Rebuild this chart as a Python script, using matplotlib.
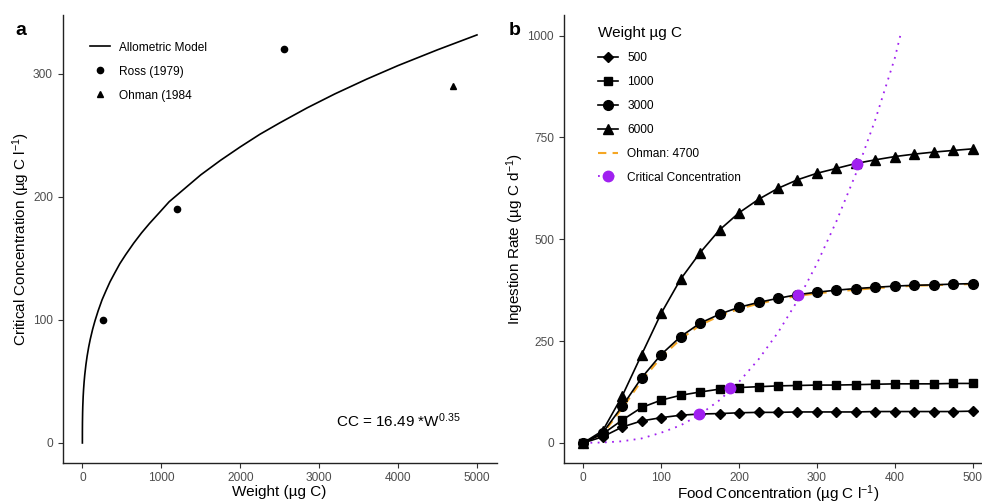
import matplotlib
matplotlib.use("Agg")
import matplotlib.pyplot as plt
from matplotlib.lines import Line2D

plt.rcParams["font.family"] = ["Liberation Sans", "DejaVu Sans"]
plt.rcParams["mathtext.fontset"] = "custom"
plt.rcParams["mathtext.rm"] = "Liberation Sans"
plt.rcParams["mathtext.it"] = "Liberation Sans:italic"

model_w = [0, 0.2, 1, 3, 5, 10, 15, 22, 30, 45, 60, 80, 100, 130, 160, 200,
           250, 300, 350, 410, 475, 550, 650, 750, 850, 975, 1100, 1300, 1500,
           1750, 2000, 2250, 2500, 2850, 3200, 3600, 4000, 4500, 5000]
model_cc = [0, 9.6, 16.8, 24.7, 29.6, 37.7, 43.4, 49.6, 55.3, 63.7, 70.5, 78.0,
            84.3, 92.4, 99.3, 107.4, 116.4, 123.8, 130.9, 138.1, 145.7, 153.1,
            162.3, 170.7, 178.3, 187.1, 196.0, 206.9, 217.8, 229.6, 240.5,
            250.8, 260.0, 272.3, 283.6, 295.5, 306.6, 319.4, 331.5]
ross_w = [265, 1200, 2560]
ross_cc = [100, 190, 320]
ohman_w = [4700]
ohman_cc = [290]

# panel b: ingestion rate vs food concentration
food = [0, 25, 50, 75, 100, 125, 150, 175, 200, 225, 250, 275, 300, 325,
        350, 375, 400, 425, 450, 475, 500]
ing_500 = [0, 15, 39, 54, 62, 68, 71, 72, 74, 75, 75, 76, 76, 76, 76, 77,
           77, 77, 77, 77, 78]
ing_1000 = [0, 22, 56, 87, 105, 117, 125, 132, 136, 138, 140, 141, 142, 142,
            143, 144, 145, 145, 145, 146, 146]
ing_3000 = [0, 25, 90, 160, 217, 261, 294, 316, 333, 345, 355, 364, 370, 375,
            379, 382, 385, 387, 388, 390, 391]
ing_6000 = [0, 30, 115, 217, 318, 402, 467, 523, 565, 598, 625, 646, 662, 674,
            686, 695, 703, 709, 714, 718, 722]
ohman_4700 = [0, 22, 85, 153, 210, 255, 289, 312, 329, 342, 352, 361, 367, 372,
              376, 380, 383, 386, 387, 389, 390]
crit_food = [0, 25, 50, 75, 100, 125, 150, 175, 200, 225, 250, 275, 300, 325,
             350, 375, 400, 407]
crit_ing = [0, 1, 4, 11, 25, 43, 70, 105, 150, 205, 271, 349, 440, 544,
            661, 794, 945, 1000]
crit_pts_food = [148, 188, 276, 352]
crit_pts_ing = [70, 134, 364, 685]

tick_col = "#4d4d4d"
purple = "#a020f0"
orange = "#f5a623"

fig = plt.figure(figsize=(9.82, 5.04), dpi=100)
ax1 = fig.add_axes([0.0638, 0.0808, 0.442, 0.889])
ax2 = fig.add_axes([0.5741, 0.0808, 0.4363, 0.889])

for ax in (ax1, ax2):
    for s in ("top", "right"):
        ax.spines[s].set_visible(False)
    for s in ("left", "bottom"):
        ax.spines[s].set_linewidth(1.0)
        ax.spines[s].set_color("#222222")
    ax.tick_params(colors="#333333", labelcolor=tick_col, labelsize=8.6,
                   length=3.5, width=0.8)
    ax.tick_params(axis="x", pad=2.5)

# ---- panel a
ax1.plot(model_w, model_cc, color="black", lw=1.2)
ax1.plot(ross_w, ross_cc, "o", color="black", ms=4.5, ls="none")
ax1.plot(ohman_w, ohman_cc, "^", color="black", ms=4.5, ls="none")
ax1.set_xlim(-250, 5250)
ax1.set_ylim(-16.5, 347.5)
ax1.set_xticks([0, 1000, 2000, 3000, 4000, 5000])
ax1.set_yticks([0, 100, 200, 300])
ax1.set_xlabel("Weight (µg C)", fontsize=11, labelpad=1)
ax1.set_ylabel("Critical Concentration (µg C l$^{-1}$)", fontsize=11, labelpad=1)
ax1.text(4000, 18, "CC = 16.49 *W$^{0.35}$", fontsize=11, ha="center", va="center")
handles_a = [
    Line2D([], [], color="black", lw=1.2),
    Line2D([], [], marker="o", color="black", ls="none", ms=4.5),
    Line2D([], [], marker="^", color="black", ls="none", ms=4.5),
]
ax1.legend(handles_a, ["Allometric Model", "Ross (1979)", "Ohman (1984"],
           loc="upper left", bbox_to_anchor=(0.038, 0.965), frameon=False,
           fontsize=8.6, handlelength=1.7, handletextpad=0.75, labelspacing=1.0)
fig.text(0.016, 0.94, "a", fontsize=14, fontweight="bold", va="center")

# ---- panel b
ax2.plot(crit_food, crit_ing, color=purple, lw=1.3, ls=(0, (1, 3)), zorder=1)
ax2.plot(food, ohman_4700, color=orange, lw=1.5, ls=(0, (4, 3)), zorder=2)
ax2.plot(food, ing_500, color="black", lw=1.2, marker="D", ms=5.5, zorder=3)
ax2.plot(food, ing_1000, color="black", lw=1.2, marker="s", ms=6, zorder=3)
ax2.plot(food, ing_3000, color="black", lw=1.2, marker="o", ms=7, zorder=3)
ax2.plot(food, ing_6000, color="black", lw=1.2, marker="^", ms=7, zorder=3)
ax2.plot(crit_pts_food, crit_pts_ing, "o", color=purple, ms=7.5, zorder=4)
ax2.set_xlim(-25, 525)
ax2.set_ylim(-50, 1050)
ax2.set_xticks([0, 100, 200, 300, 400, 500])
ax2.set_yticks([0, 250, 500, 750, 1000])
ax2.set_xlabel("Food Concentration (µg C l$^{-1}$)", fontsize=11, labelpad=-0.5)
ax2.set_ylabel("Ingestion Rate (µg C d$^{-1}$)", fontsize=11, labelpad=1)
handles_b = [
    Line2D([], [], color="black", lw=1.2, marker="D", ms=5.5),
    Line2D([], [], color="black", lw=1.2, marker="s", ms=6),
    Line2D([], [], color="black", lw=1.2, marker="o", ms=7),
    Line2D([], [], color="black", lw=1.2, marker="^", ms=7),
    Line2D([], [], color=orange, lw=1.5, ls=(0, (4, 3))),
    Line2D([], [], color=purple, lw=1.3, ls=(0, (1, 3)), marker="o", ms=7.5),
]
leg = ax2.legend(handles_b, ["500", "1000", "3000", "6000", "Ohman: 4700",
                             "Critical Concentration"],
                 title="Weight µg C", title_fontsize=11, alignment="left",
                 loc="upper left", bbox_to_anchor=(0.055, 1.0), frameon=False,
                 fontsize=8.6, handlelength=1.7, handletextpad=0.75,
                 labelspacing=1.0)
fig.text(0.518, 0.94, "b", fontsize=14, fontweight="bold", va="center")

fig.savefig("out.png", dpi=100)
